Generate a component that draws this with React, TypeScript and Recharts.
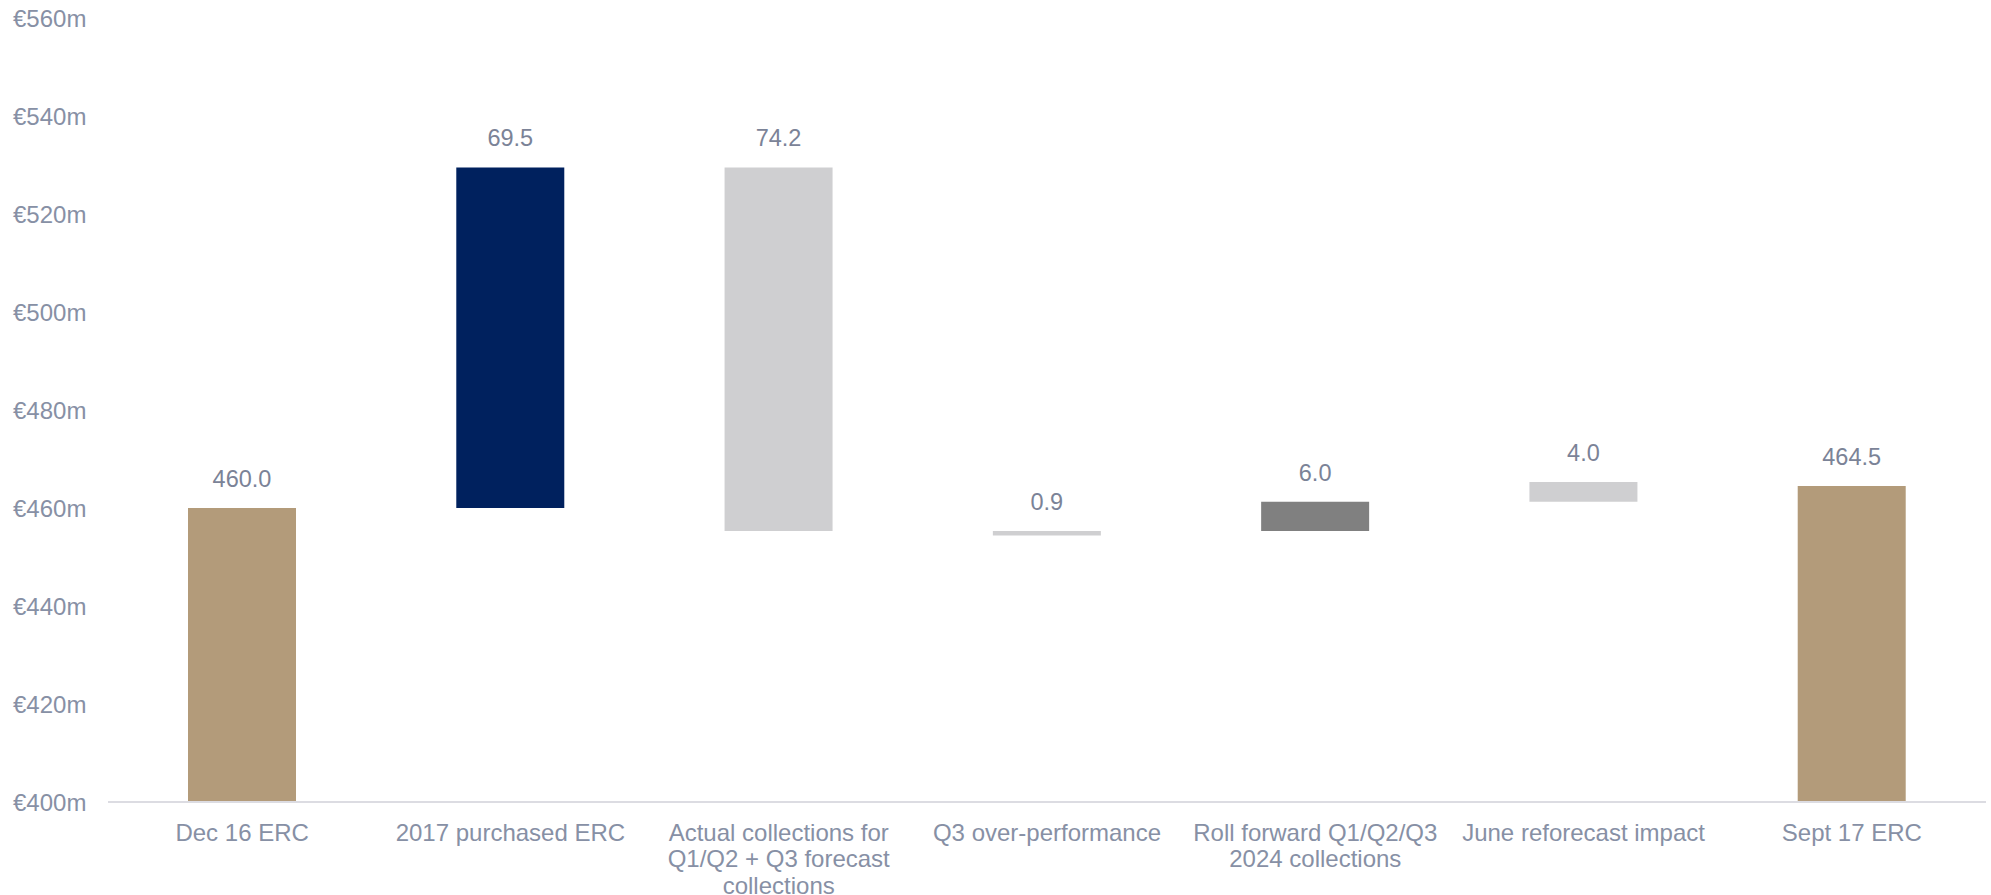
import React from "react";
import { BarChart, Bar, XAxis, YAxis, Cell, LabelList } from "recharts";

const categories = [
  "Dec 16 ERC",
  "2017 purchased ERC",
  "Actual collections for\nQ1/Q2 + Q3 forecast\ncollections",
  "Q3 over-performance",
  "Roll forward Q1/Q2/Q3\n2024 collections",
  "June reforecast impact",
  "Sept 17 ERC",
];
// bottom / top of each floating bar (€m); totals start at the axis floor
const lows = [400, 460, 455.3, 454.4, 455.3, 461.3, 400];
const highs = [460, 529.5, 529.5, 455.3, 461.3, 465.3, 464.5];
const valueLabels = ["460.0", "69.5", "74.2", "0.9", "6.0", "4.0", "464.5"];
const colors = ["#b39b7a", "#00215e", "#cfcfd1", "#cfcfd1", "#808080", "#cfcfd1", "#b39b7a"];
const yTicks = [400, 420, 440, 460, 480, 500, 520, 540, 560];

const data = categories.map((name, i) => ({
  name,
  range: [lows[i], highs[i]],
  label: valueLabels[i],
}));

const FONT = "'Liberation Sans', Arial, sans-serif";
const TEXT = "#8790a5";

function YTick({ y, payload }: any) {
  return (
    <text x={13} y={y} dy={8.5} fontSize={24} fill={TEXT} fontFamily={FONT} textAnchor="start">
      €{payload.value}m
    </text>
  );
}

function XTick({ x, y, payload }: any) {
  const lines = String(payload.value).split("\n");
  return (
    <text x={x} y={y} fontSize={24} fill={TEXT} fontFamily={FONT} textAnchor="middle">
      {lines.map((line, i) => (
        <tspan key={i} x={x} dy={i === 0 ? 30.5 : 26.7}>
          {line}
        </tspan>
      ))}
    </text>
  );
}

function ValueLabel({ x, y, width, value }: any) {
  return (
    <text x={x + width / 2} y={y - 21} fontSize={23.5} fill="#7b8397" fontFamily={FONT} textAnchor="middle">
      {value}
    </text>
  );
}

export default function App() {
  return (
    <div style={{ position: "fixed", left: 0, top: 0, width: 1991, height: 895, background: "#fff" }}>
      <BarChart
        width={1991}
        height={895}
        data={data}
        margin={{ top: 18, right: 5, left: 0, bottom: 0 }}
        barSize={108}
      >
        <XAxis
          dataKey="name"
          tick={<XTick />}
          tickLine={false}
          axisLine={{ stroke: "#dcdce2", strokeWidth: 2 }}
          height={93}
          interval={0}
        />
        <YAxis
          type="number"
          domain={[400, 560]}
          ticks={yTicks}
          tick={<YTick />}
          axisLine={false}
          tickLine={false}
          width={108}
          allowDataOverflow
        />
        <Bar dataKey="range" isAnimationActive={false}>
          {data.map((d, i) => (
            <Cell key={d.name} fill={colors[i]} />
          ))}
          <LabelList dataKey="label" content={<ValueLabel />} />
        </Bar>
      </BarChart>
    </div>
  );
}
